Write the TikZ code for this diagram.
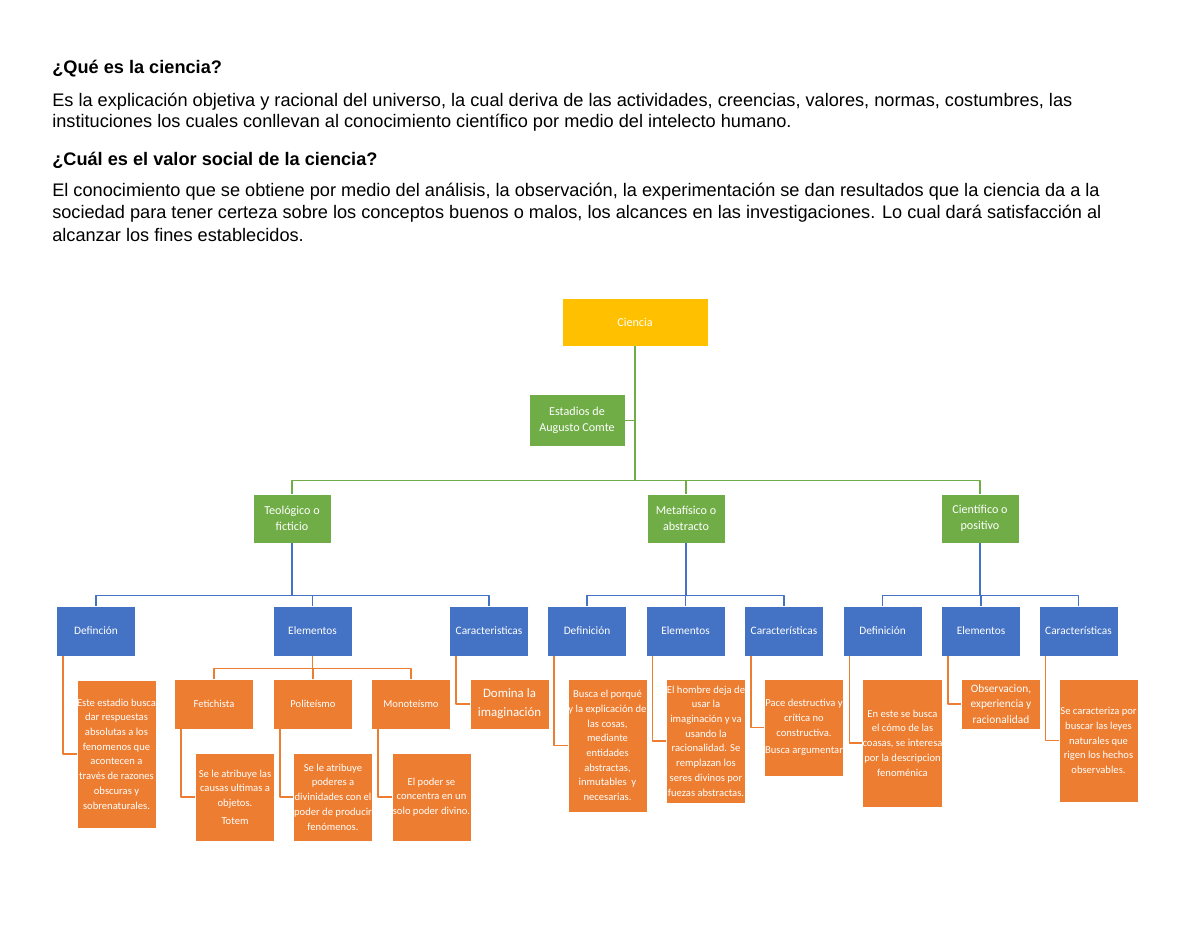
\documentclass[tikz,border=0pt]{standalone}
\usepackage{fontspec}
\setmainfont{Liberation Sans}
\newfontfamily\cajafont{Carlito}
\definecolor{oro}{HTML}{FFC000}
\definecolor{verde}{HTML}{70AD47}
\definecolor{azul}{HTML}{4472C4}
\definecolor{naranja}{HTML}{ED7D31}
\begin{document}
\begin{tikzpicture}[x=0.6604pt, y=-0.6604pt, line join=round,
    txt/.style={anchor=base west, inner sep=0pt, font=\fontsize{12}{14}\selectfont},
    caja/.style={draw=white, line width=0.6pt, text=white, align=center, inner xsep=0pt, inner ysep=1pt, font=\cajafont\fontsize{7}{9.7}\selectfont},
    cajaoro/.style={caja, fill=oro, minimum width=96.4pt, minimum height=31.7pt, font=\cajafont\fontsize{8}{10.5}\selectfont},
    cajaverde/.style={caja, fill=verde, minimum width=51.5pt, minimum height=32.4pt, font=\cajafont\fontsize{8}{10.5}\selectfont},
    cajaazul/.style={caja, fill=azul, minimum width=52.2pt, minimum height=33pt, font=\cajafont\fontsize{7.5}{10}\selectfont},
    cajanar/.style={caja, fill=naranja, minimum width=52.2pt, minimum height=#1},
    cajanar/.default=33pt,
    lverde/.style={draw=verde, line width=1.2pt},
    lazul/.style={draw=azul, line width=1.2pt},
    lnar/.style={draw=naranja, line width=1.2pt}]
  \useasboundingbox (0,0) rectangle (1200,927);
  % texto de arriba
  \node[txt, font=\bfseries\fontsize{12}{14}\selectfont] (q1) at (52,74) {¿Qué es la ciencia?};
  \node[txt] (p1a) at (52,107) {Es la explicación objetiva y racional del universo, la cual deriva de las actividades, creencias, valores, normas, costumbres, las};
  \node[txt] (p1b) at (52,128) {instituciones los cuales conllevan al conocimiento científico por medio del intelecto humano.};
  \node[txt, font=\bfseries\fontsize{12}{14}\selectfont] (q2) at (52,166) {¿Cuál es el valor social de la ciencia?};
  \node[txt] (p2a) at (52,197) {El conocimiento que se obtiene por medio del análisis, la observación, la experimentación se dan resultados que la ciencia da a la};
  \node[txt] (p2b) at (52,219) {sociedad para tener certeza sobre los conceptos buenos o malos, los alcances en las investigaciones. Lo cual dará satisfacción al};
  \node[txt] (p2c) at (52,242) {alcanzar los fines establecidos.};
  % niveles de arriba
  \node[cajaoro] (ciencia) at (635,322) {Ciencia};
  \node[cajaverde, minimum width=63.4pt, minimum height=34.3pt] (estadios) at (577,420.5) {Estadios de\\Augusto Comte};
  \node[cajaverde] (teo) at (292,518.5) {Teológico o\\ficticio};
  \node[cajaverde] (meta) at (686,518.5) {Metafísico o\\abstracto};
  \node[cajaverde] (cien) at (980,518.5) {Científico o\\positivo};
  % azules
  \node[cajaazul] (defL) at (96,631) {Definción};
  \node[cajaazul] (elemL) at (312.5,631) {Elementos};
  \node[cajaazul] (carL) at (489,631) {Caracteristicas};
  \node[cajaazul] (defM) at (587,631) {Definición};
  \node[cajaazul] (elemM) at (685.5,631) {Elementos};
  \node[cajaazul] (carM) at (784,631) {Características};
  \node[cajaazul] (defR) at (882.5,631) {Definición};
  \node[cajaazul] (elemR) at (981,631) {Elementos};
  \node[cajaazul] (carR) at (1078.5,631) {Características};
  % naranjas
  \node[cajanar] (fet) at (214,704) {Fetichista};
  \node[cajanar] (pol) at (313,704) {Politeísmo};
  \node[cajanar] (mon) at (411,704) {Monoteísmo};
  \node[cajanar=97.7pt] (dDefL) at (116.5,754) {Este estadio busca\\dar respuestas\\absolutas a los\\fenomenos que\\acontecen a\\través de razones\\obscuras y\\sobrenaturales.};
  \node[cajanar=58.1pt] (dFet) at (235,797) {Se le atribuye las\\causas ultimas a\\objetos.\\[2pt]Totem};
  \node[cajanar=58.1pt] (dPol) at (333,797) {Se le atribuye\\poderes a\\divinidades con el\\poder de producir\\fenómenos.};
  \node[cajanar=58.1pt] (dMon) at (431.5,797) {El poder se\\concentra en un\\solo poder divino.};
  \node[cajanar, font=\cajafont\fontsize{8.5}{12.5}\selectfont] (dom) at (509.5,704) {Domina la\\imaginación};
  \node[cajanar=87.8pt] (dDefM) at (607.5,745.5) {Busca el porqué\\y la explicación de\\las cosas,\\mediante\\entidades\\abstractas,\\inmutables\ \ y\\necesarias.};
  \node[cajanar=81.9pt] (dElemM) at (706,741) {El hombre deja de\\usar la\\imaginación y va\\usando la\\racionalidad. Se\\remplazan los\\seres divinos por\\fuezas abstractas.};
  \node[cajanar=64.1pt] (dCarM) at (804,727.5) {Pace destructiva y\\crítica no\\constructiva.\\[2pt]Busca argumentar};
  \node[cajanar=84.5pt] (dDefR) at (902.5,743) {En este se busca\\el cómo de las\\coasas, se interesa\\por la descripcion\\fenoménica};
  \node[cajanar, font=\cajafont\fontsize{7.5}{10}\selectfont] (dElemR) at (1001,704) {Observacion,\\experiencia y\\racionalidad};
  \node[cajanar=81.2pt] (dCarR) at (1098.5,740.5) {Se caracteriza por\\buscar las leyes\\naturales que\\rigen los hechos\\observables.};
  % conectores
  \foreach \c in {teo,meta,cien} \draw[lverde] (ciencia.south) -- ++(0,134) -| (\c.north);
  \draw[lverde] (estadios.east) -- (estadios.east -| ciencia.south);
  \foreach \p/\c in {teo/defL,teo/elemL,teo/carL,meta/defM,meta/elemM,meta/carM,cien/defR,cien/elemR,cien/carR}
    \draw[lazul] (\p.south) -- ++(0,52) -| (\c.north);
  \foreach \c in {fet,pol,mon} \draw[lnar] (elemL.south) -- ++(0,12) -| (\c.north);
  \foreach \p/\c in {defL/dDefL,fet/dFet,pol/dPol,mon/dMon,carL/dom,defM/dDefM,elemM/dElemM,carM/dCarM,defR/dDefR,elemR/dElemR,carR/dCarR}
    \draw[lnar] ([xshift=4.6pt]\p.south west) |- (\c.west);
\end{tikzpicture}
\end{document}
